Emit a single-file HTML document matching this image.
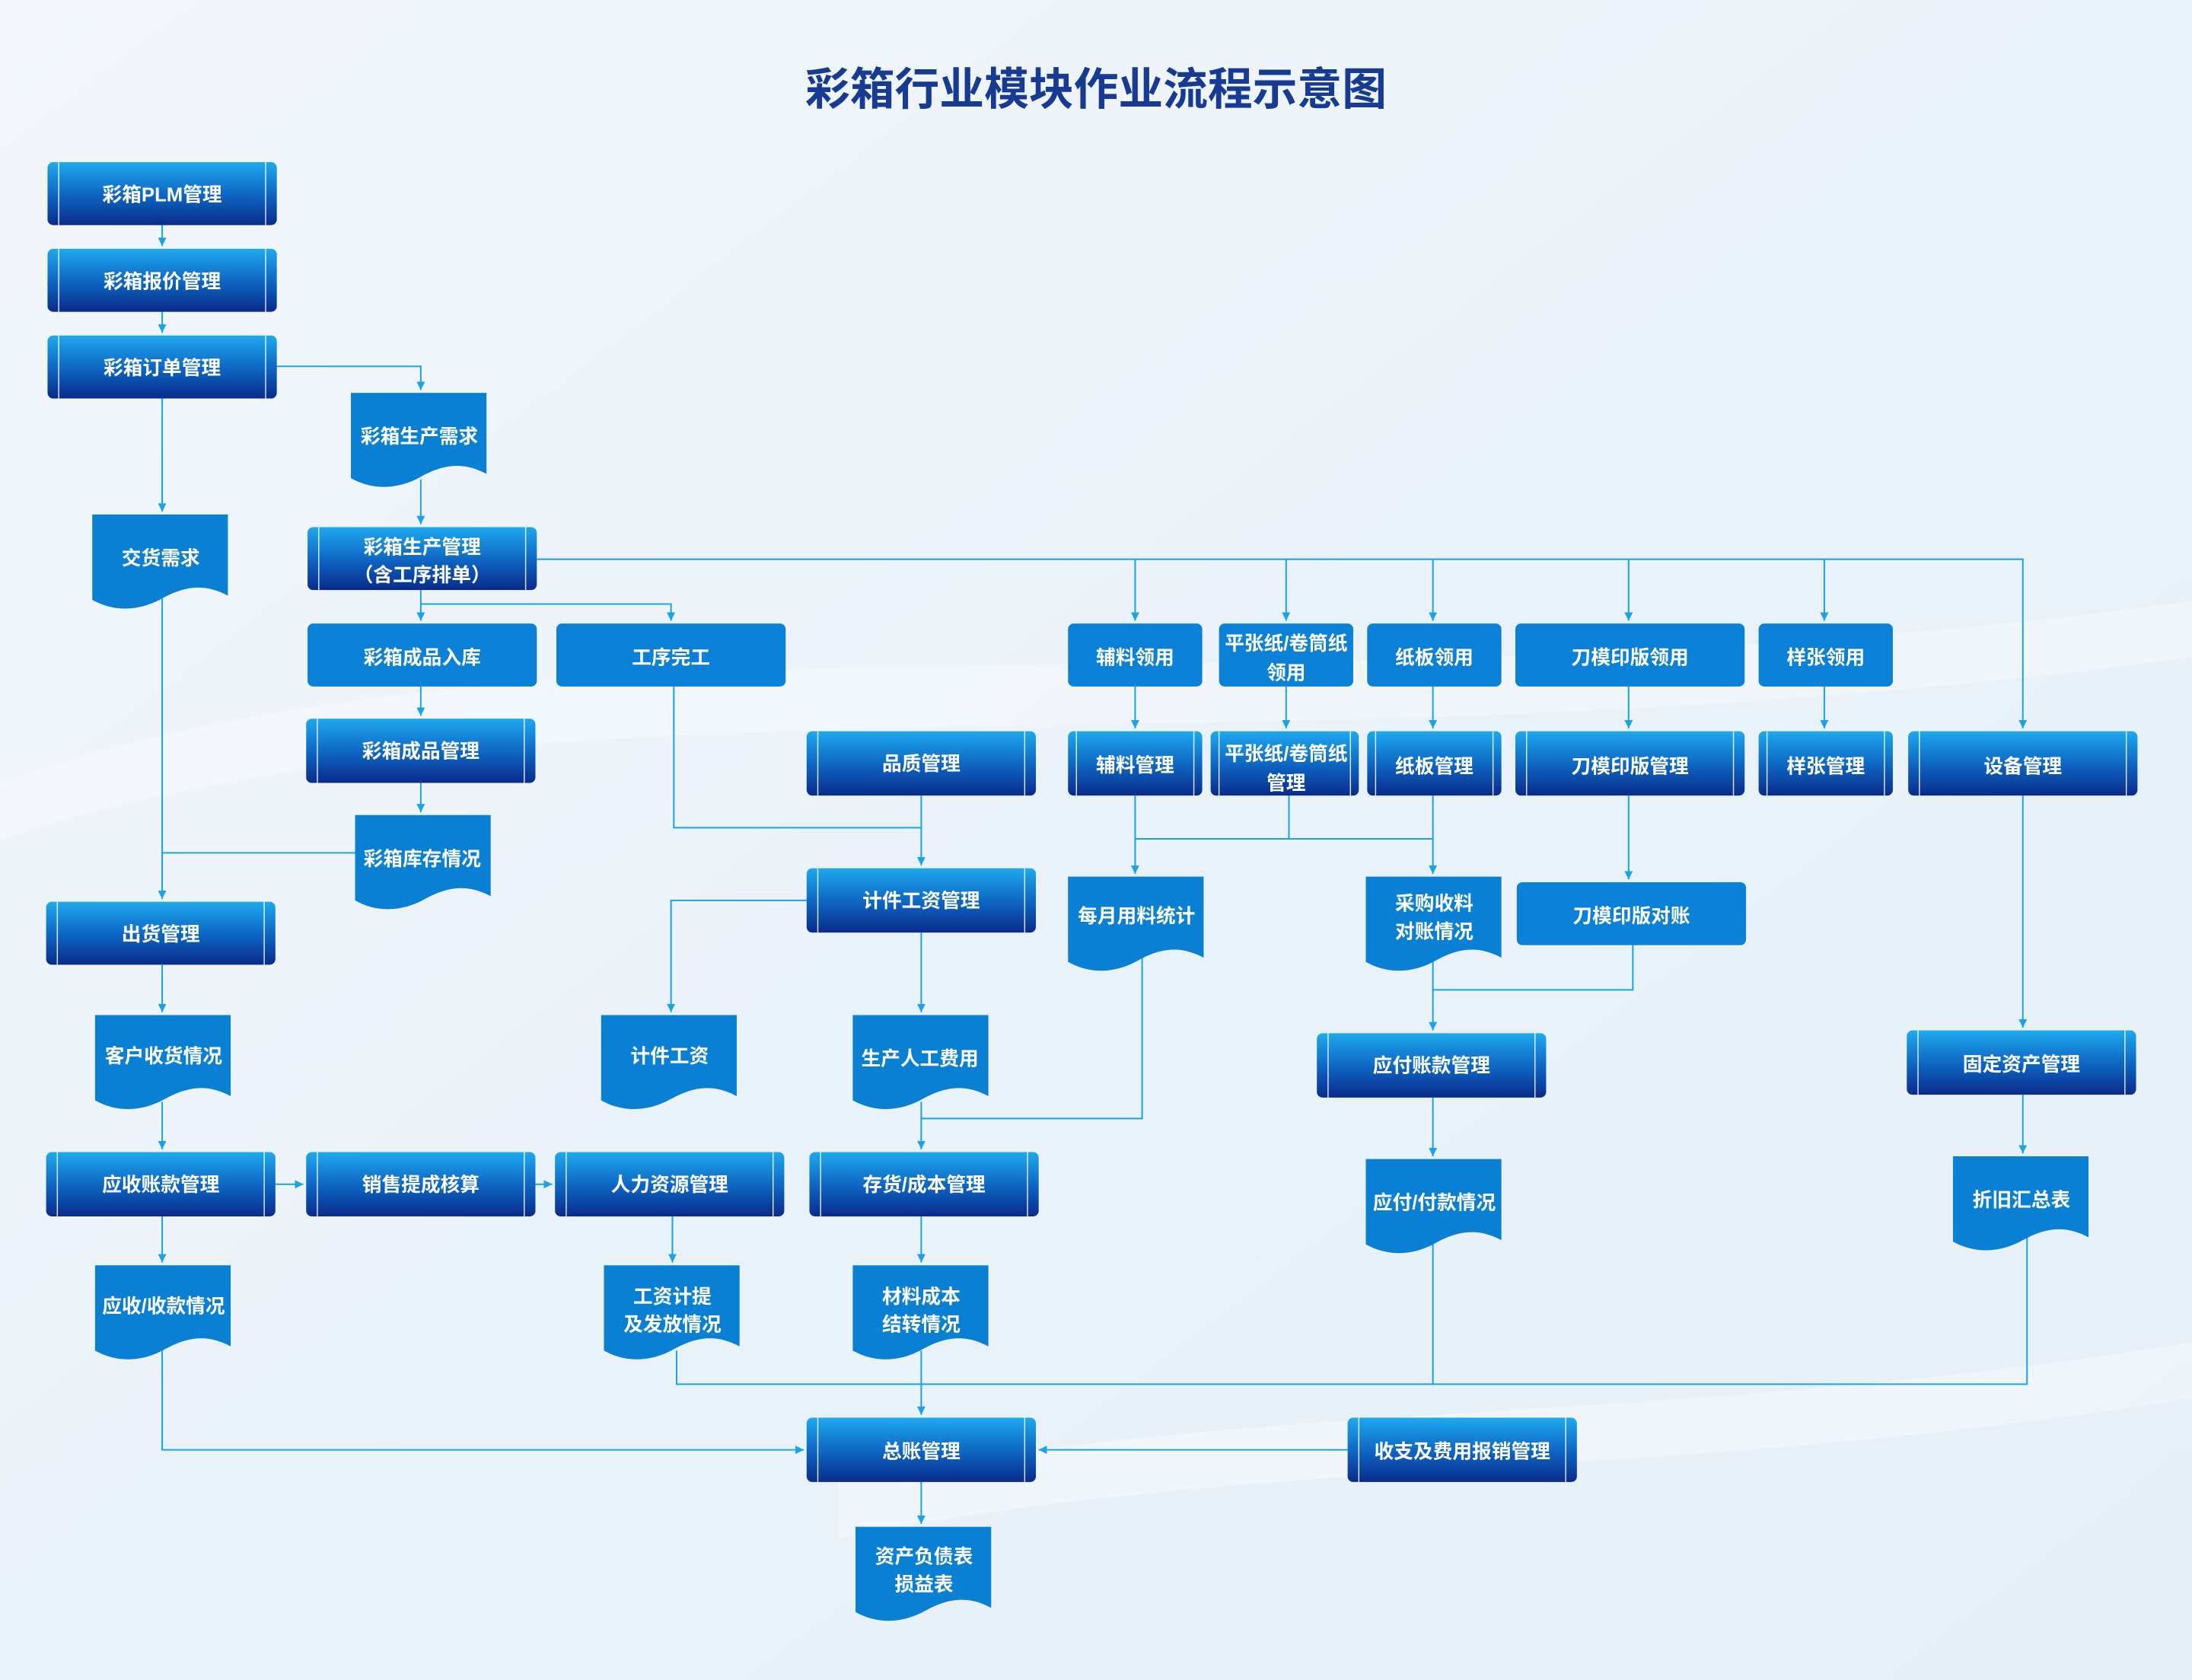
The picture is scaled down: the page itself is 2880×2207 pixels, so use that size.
<!DOCTYPE html>
<html><head><meta charset="utf-8"><style>
html,body{margin:0;padding:0;width:2880px;height:2207px;overflow:hidden;background:#eef4fa}
svg{display:block}
text{font-family:"Liberation Sans","Noto Sans CJK SC",sans-serif;font-weight:bold;fill:#fff;font-size:14px;text-anchor:middle}
</style></head><body>
<svg width="2880" height="2207" viewBox="0 0 1568 1201.6" xmlns="http://www.w3.org/2000/svg">
<defs>
<linearGradient id="bg" x1="0" y1="0" x2="1" y2="1">
<stop offset="0" stop-color="#f3f7fb"/><stop offset="0.5" stop-color="#eaf2f9"/><stop offset="1" stop-color="#e6eff8"/></linearGradient>
<linearGradient id="g" x1="0" y1="0" x2="0" y2="1">
<stop offset="0" stop-color="#1ea9ee"/><stop offset="0.55" stop-color="#0d62c0"/><stop offset="1" stop-color="#0a2b8a"/></linearGradient>
<path id="doc" d="M0,0 H97 V58 C82,50 68,50 50,60 C34,69 16,70 0,61 Z" fill="#0a80d4"/>
<marker id="a" markerWidth="8" markerHeight="8" refX="6" refY="3" orient="auto" markerUnits="userSpaceOnUse"><path d="M0,0 L6,3 L0,6 Z" fill="#1aa3e8"/></marker>
</defs>
<rect width="1568" height="1202" fill="url(#bg)"/>
<path d="M0,560 C400,420 900,520 1568,430 L1568,470 C900,560 400,470 0,600Z" fill="#fff" opacity="0.35"/>
<path d="M600,1060 C900,1000 1200,1020 1568,960 L1568,1000 C1200,1060 900,1040 600,1100Z" fill="#fff" opacity="0.35"/>

<text x="784" y="75" style="font-size:32px;fill:#173b93">彩箱行业模块作业流程示意图</text>

<g fill="none" stroke="#1aa3e8" stroke-width="1.1">
<path d="M116,161V176" marker-end="url(#a)"/>
<path d="M116,223V238" marker-end="url(#a)"/>
<path d="M198,262H301V279" marker-end="url(#a)"/>
<path d="M116,285V366" marker-end="url(#a)"/>
<path d="M301,343V375" marker-end="url(#a)"/>
<path d="M384,400H1447V521" marker-end="url(#a)"/>
<path d="M812,400V444" marker-end="url(#a)"/>
<path d="M920,400V444" marker-end="url(#a)"/>
<path d="M1025,400V444" marker-end="url(#a)"/>
<path d="M1165,400V444" marker-end="url(#a)"/>
<path d="M1305,400V444" marker-end="url(#a)"/>
<path d="M301,422V444" marker-end="url(#a)"/>
<path d="M301,432H480V444" marker-end="url(#a)"/>
<path d="M301,491V512" marker-end="url(#a)"/>
<path d="M301,560V581" marker-end="url(#a)"/>
<path d="M116,428V643" marker-end="url(#a)"/>
<path d="M254,610H116"/>
<path d="M482,491V592H659"/>
<path d="M659,569V619" marker-end="url(#a)"/>
<path d="M812,491V521" marker-end="url(#a)"/>
<path d="M920,491V521" marker-end="url(#a)"/>
<path d="M1025,491V521" marker-end="url(#a)"/>
<path d="M1165,491V521" marker-end="url(#a)"/>
<path d="M1305,491V521" marker-end="url(#a)"/>
<path d="M812,569V625" marker-end="url(#a)"/>
<path d="M922,569V600"/>
<path d="M812,600H1025"/>
<path d="M1025,569V625" marker-end="url(#a)"/>
<path d="M1165,569V629" marker-end="url(#a)"/>
<path d="M1447,569V735" marker-end="url(#a)"/>
<path d="M577,644H480V724" marker-end="url(#a)"/>
<path d="M659,667V724" marker-end="url(#a)"/>
<path d="M817,684V800H659"/>
<path d="M659,788V822" marker-end="url(#a)"/>
<path d="M1025,686V737" marker-end="url(#a)"/>
<path d="M1168,676V708H1025"/>
<path d="M116,690V724" marker-end="url(#a)"/>
<path d="M116,788V822" marker-end="url(#a)"/>
<path d="M197,847H217" marker-end="url(#a)"/>
<path d="M383,847H395" marker-end="url(#a)"/>
<path d="M116,870V903" marker-end="url(#a)"/>
<path d="M481,870V903" marker-end="url(#a)"/>
<path d="M659,870V903" marker-end="url(#a)"/>
<path d="M1025,785V827" marker-end="url(#a)"/>
<path d="M1447,783V825" marker-end="url(#a)"/>
<path d="M1025,888V990"/>
<path d="M1450,884V990H484V966"/>
<path d="M659,966V1012" marker-end="url(#a)"/>
<path d="M116,966V1037H575" marker-end="url(#a)"/>
<path d="M964,1037H743" marker-end="url(#a)"/>
<path d="M659,1060V1090" marker-end="url(#a)"/>
</g>

<!-- process boxes -->
<g stroke="#fff" stroke-width="0.8" stroke-opacity="0.85">
<g transform="translate(34,116)"><rect width="164" height="45" rx="4" fill="url(#g)" stroke="none"/><path d="M8,0V45M156,0V45"/></g>
<g transform="translate(34,178)"><rect width="164" height="45" rx="4" fill="url(#g)" stroke="none"/><path d="M8,0V45M156,0V45"/></g>
<g transform="translate(34,240)"><rect width="164" height="45" rx="4" fill="url(#g)" stroke="none"/><path d="M8,0V45M156,0V45"/></g>
<g transform="translate(220,377)"><rect width="164" height="45" rx="4" fill="url(#g)" stroke="none"/><path d="M8,0V45M156,0V45"/></g>
<g transform="translate(219,514)"><rect width="164" height="46" rx="4" fill="url(#g)" stroke="none"/><path d="M8,0V46M156,0V46"/></g>
<g transform="translate(33,645)"><rect width="164" height="45" rx="4" fill="url(#g)" stroke="none"/><path d="M8,0V45M156,0V45"/></g>
<g transform="translate(577,523)"><rect width="164" height="46" rx="4" fill="url(#g)" stroke="none"/><path d="M8,0V46M156,0V46"/></g>
<g transform="translate(764,523)"><rect width="96" height="46" rx="4" fill="url(#g)" stroke="none"/><path d="M6,0V46M90,0V46"/></g>
<g transform="translate(866,523)"><rect width="106" height="46" rx="4" fill="url(#g)" stroke="none"/><path d="M6,0V46M100,0V46"/></g>
<g transform="translate(978,523)"><rect width="96" height="46" rx="4" fill="url(#g)" stroke="none"/><path d="M6,0V46M90,0V46"/></g>
<g transform="translate(1084,523)"><rect width="164" height="46" rx="4" fill="url(#g)" stroke="none"/><path d="M8,0V46M156,0V46"/></g>
<g transform="translate(1258,523)"><rect width="96" height="46" rx="4" fill="url(#g)" stroke="none"/><path d="M6,0V46M90,0V46"/></g>
<g transform="translate(1365,523)"><rect width="164" height="46" rx="4" fill="url(#g)" stroke="none"/><path d="M8,0V46M156,0V46"/></g>
<g transform="translate(577,621)"><rect width="164" height="46" rx="4" fill="url(#g)" stroke="none"/><path d="M8,0V46M156,0V46"/></g>
<g transform="translate(942,739)"><rect width="164" height="46" rx="4" fill="url(#g)" stroke="none"/><path d="M8,0V46M156,0V46"/></g>
<g transform="translate(1364,737)"><rect width="164" height="46" rx="4" fill="url(#g)" stroke="none"/><path d="M8,0V46M156,0V46"/></g>
<g transform="translate(33,824)"><rect width="164" height="46" rx="4" fill="url(#g)" stroke="none"/><path d="M8,0V46M156,0V46"/></g>
<g transform="translate(219,824)"><rect width="164" height="46" rx="4" fill="url(#g)" stroke="none"/><path d="M8,0V46M156,0V46"/></g>
<g transform="translate(397,824)"><rect width="164" height="46" rx="4" fill="url(#g)" stroke="none"/><path d="M8,0V46M156,0V46"/></g>
<g transform="translate(579,824)"><rect width="164" height="46" rx="4" fill="url(#g)" stroke="none"/><path d="M8,0V46M156,0V46"/></g>
<g transform="translate(577,1014)"><rect width="164" height="46" rx="4" fill="url(#g)" stroke="none"/><path d="M8,0V46M156,0V46"/></g>
<g transform="translate(964,1014)"><rect width="164" height="46" rx="4" fill="url(#g)" stroke="none"/><path d="M8,0V46M156,0V46"/></g>
</g>

<!-- flat boxes -->
<g fill="#0a80d6">
<rect x="220" y="446" width="164" height="45" rx="4"/>
<rect x="398" y="446" width="164" height="45" rx="4"/>
<rect x="764" y="446" width="96" height="45" rx="4"/>
<rect x="872" y="446" width="96" height="45" rx="4"/>
<rect x="978" y="446" width="96" height="45" rx="4"/>
<rect x="1084" y="446" width="164" height="45" rx="4"/>
<rect x="1258" y="446" width="96" height="45" rx="4"/>
<rect x="1085" y="631" width="164" height="45" rx="4"/>
</g>

<!-- documents -->
<use href="#doc" x="251" y="281"/>
<use href="#doc" x="66" y="368"/>
<use href="#doc" x="254" y="583"/>
<use href="#doc" x="764" y="627"/>
<use href="#doc" x="977" y="627"/>
<use href="#doc" x="68" y="726"/>
<use href="#doc" x="430" y="726"/>
<use href="#doc" x="610" y="726"/>
<use href="#doc" x="977" y="829"/>
<use href="#doc" x="1397" y="827"/>
<use href="#doc" x="68" y="905"/>
<use href="#doc" x="432" y="905"/>
<use href="#doc" x="610" y="905"/>
<use href="#doc" x="612" y="1092"/>

<!-- labels -->
<text x="116" y="144">彩箱PLM管理</text>
<text x="116" y="206">彩箱报价管理</text>
<text x="116" y="268">彩箱订单管理</text>
<text x="300" y="317">彩箱生产需求</text>
<text x="115" y="404">交货需求</text>
<text x="302" y="396">彩箱生产管理</text>
<text x="302" y="416">（含工序排单）</text>
<text x="302" y="475">彩箱成品入库</text>
<text x="480" y="475">工序完工</text>
<text x="812" y="475">辅料领用</text>
<text x="920" y="465">平张纸/卷筒纸</text>
<text x="920" y="486">领用</text>
<text x="1026" y="475">纸板领用</text>
<text x="1166" y="475">刀模印版领用</text>
<text x="1306" y="475">样张领用</text>
<text x="301" y="542">彩箱成品管理</text>
<text x="659" y="551">品质管理</text>
<text x="812" y="552">辅料管理</text>
<text x="920" y="544">平张纸/卷筒纸</text>
<text x="920" y="565">管理</text>
<text x="1026" y="553">纸板管理</text>
<text x="1166" y="553">刀模印版管理</text>
<text x="1306" y="553">样张管理</text>
<text x="1447" y="553">设备管理</text>
<text x="302" y="619">彩箱库存情况</text>
<text x="659" y="649">计件工资管理</text>
<text x="813" y="660">每月用料统计</text>
<text x="1026" y="651">采购收料</text>
<text x="1026" y="671">对账情况</text>
<text x="1167" y="660">刀模印版对账</text>
<text x="115" y="673">出货管理</text>
<text x="117" y="760">客户收货情况</text>
<text x="479" y="760">计件工资</text>
<text x="658" y="762">生产人工费用</text>
<text x="1024" y="767">应付账款管理</text>
<text x="1446" y="766">固定资产管理</text>
<text x="115" y="852">应收账款管理</text>
<text x="301" y="852">销售提成核算</text>
<text x="479" y="852">人力资源管理</text>
<text x="661" y="852">存货/成本管理</text>
<text x="1026" y="865">应付/付款情况</text>
<text x="1446" y="863">折旧汇总表</text>
<text x="117" y="939">应收/收款情况</text>
<text x="481" y="932">工资计提</text>
<text x="481" y="952">及发放情况</text>
<text x="659" y="932">材料成本</text>
<text x="659" y="952">结转情况</text>
<text x="659" y="1043">总账管理</text>
<text x="1046" y="1043">收支及费用报销管理</text>
<text x="661" y="1118">资产负债表</text>
<text x="661" y="1138">损益表</text>
</svg>
</body></html>
